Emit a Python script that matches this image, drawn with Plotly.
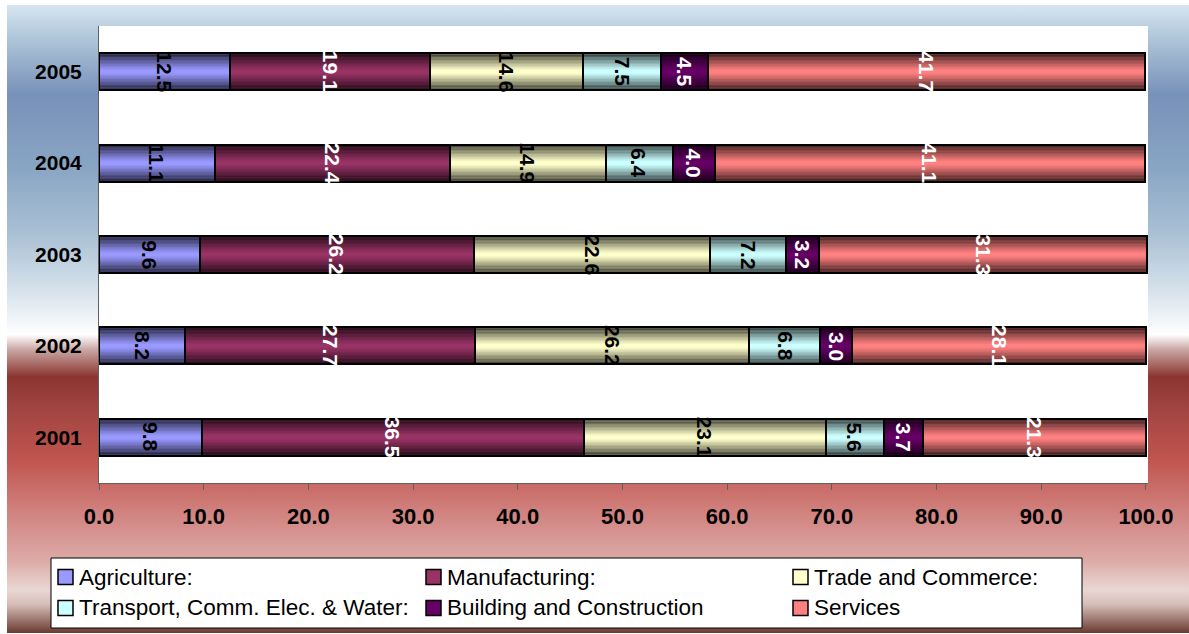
import base64
import plotly.graph_objects as go

# Sector shares of output (%), by year
years = ["2001", "2002", "2003", "2004", "2005"]
sectors = [
    "Agriculture:",
    "Manufacturing:",
    "Trade and Commerce:",
    "Transport, Comm. Elec. & Water:",
    "Building and Construction",
    "Services",
]
agriculture = [9.8, 8.2, 9.6, 11.1, 12.5]
manufacturing = [36.5, 27.7, 26.2, 22.4, 19.1]
trade = [23.1, 26.2, 22.6, 14.9, 14.6]
transport = [5.6, 6.8, 7.2, 6.4, 7.5]
building = [3.7, 3.0, 3.2, 4.0, 4.5]
services = [21.3, 28.1, 31.3, 41.1, 41.7]
x_ticks = [0, 10, 20, 30, 40, 50, 60, 70, 80, 90, 100]

series = [agriculture, manufacturing, trade, transport, building, services]
colors = ["#9999ff", "#993366", "#ffffcc", "#ccffff", "#660066", "#ff8080"]
label_colors = ["black", "white", "black", "black", "white", "white"]

FONT = "Liberation Sans, Arial, sans-serif"
W, H = 1189, 634
L, T, PW, PH = 99, 26, 1049, 457
R = W - L - PW
B = H - T - PH
BAR_W = 0.405


def px_x(px):
    return (px - L) / PW


def px_y(py):
    return (T + PH - py) / PH


ypos = list(range(len(years)))

fig = go.Figure()
for name, vals, col in zip(sectors, series, colors):
    fig.add_trace(go.Bar(
        y=ypos, x=vals, name=name, orientation="h",
        width=BAR_W,
        marker=dict(color=col, line=dict(color="black", width=2)),
        showlegend=False, hoverinfo="x+name",
    ))

# Edge shading of the bars: translucent dark bands stacked from each long
# edge toward the middle of every bar
totals = [sum(vals[i] for vals in series) for i in ypos]
n_strips = 12
edge = BAR_W * 0.45
h = edge / n_strips
shade_shapes = []
for i, tot in zip(ypos, totals):
    top = i + BAR_W / 2
    bot = i - BAR_W / 2
    for k in range(n_strips):
        a = 0.78 * (1 - k / n_strips) ** 1.15
        for y0, y1 in ((top - (k + 1) * h, top - k * h), (bot + k * h, bot + (k + 1) * h)):
            shade_shapes.append(dict(
                type="rect", xref="x", yref="y", x0=0, x1=tot, y0=y0, y1=y1,
                fillcolor=f"rgba(0,0,0,{a:.3f})", line=dict(width=0), layer="above",
            ))

annotations = []
shapes = []

# Value labels, rotated, centred on each segment
for i in ypos:
    start = 0.0
    for vals, tc in zip(series, label_colors):
        v = vals[i]
        annotations.append(dict(
            x=start + v / 2, y=i, xref="x", yref="y",
            text=f"{v:.1f}", showarrow=False, textangle=90,
            font=dict(family=FONT, size=21, color=tc, weight="bold"),
        ))
        start += v

# White plotting area over the gradient backdrop
shapes.append(dict(
    type="rect", xref="paper", yref="paper", x0=0, x1=1, y0=0, y1=1,
    fillcolor="white", line=dict(width=0), layer="below",
))
shapes += shade_shapes

# Legend box, swatches and labels
lg_x0, lg_x1, lg_y0, lg_y1 = 51, 1082, 558, 628
shapes.append(dict(
    type="rect", xref="paper", yref="paper",
    x0=px_x(lg_x0), x1=px_x(lg_x1), y0=px_y(lg_y1), y1=px_y(lg_y0),
    fillcolor="white", line=dict(color="black", width=1), layer="above",
))
col_x = [58, 426, 793]
row_y = [577, 608]
for j, (name, col) in enumerate(zip(sectors, colors)):
    cx = col_x[j % 3]
    cy = row_y[j // 3]
    shapes.append(dict(
        type="rect", xref="paper", yref="paper",
        x0=px_x(cx), x1=px_x(cx + 15), y0=px_y(cy + 7.5), y1=px_y(cy - 7.5),
        fillcolor=col, line=dict(color="black", width=1.5), layer="above",
    ))
    annotations.append(dict(
        x=px_x(cx + 19), y=px_y(cy), xref="paper", yref="paper",
        xanchor="left", yanchor="middle", text=name, showarrow=False,
        font=dict(family=FONT, size=22.5, color="black"),
    ))

# Gradient backdrop for the chart area
stops = [
    (0.000, "#d8e5f0"), (0.045, "#b4cadd"), (0.143, "#7891b8"),
    (0.258, "#89a5c4"), (0.363, "#a9c0d4"), (0.443, "#d0dde8"),
    (0.498, "#eff3f7"), (0.525, "#ffffff"), (0.549, "#c9a6a2"),
    (0.592, "#8b3531"), (0.645, "#a24541"), (0.725, "#c1554f"),
    (0.804, "#d0807d"), (0.884, "#dcaaa6"), (0.932, "#e9d7d3"),
    (0.955, "#d5bcb7"), (1.000, "#6a3a30"),
]
bg_x0, bg_y0, bg_w, bg_h = 7, 5, W - 7, 628
stop_xml = "".join(f"<stop offset='{o}' stop-color='{c}'/>" for o, c in stops)
svg = (
    f"<svg xmlns='http://www.w3.org/2000/svg' width='{bg_w}' height='{bg_h}' "
    f"viewBox='0 0 {bg_w} {bg_h}' preserveAspectRatio='none'>"
    f"<defs><linearGradient id='g' x1='0' y1='0' x2='0' y2='1'>{stop_xml}"
    f"</linearGradient></defs><rect width='{bg_w}' height='{bg_h}' fill='url(#g)'/></svg>"
)
src = "data:image/svg+xml;base64," + base64.b64encode(svg.encode()).decode()

fig.update_layout(
    barmode="stack",
    width=W, height=H,
    margin=dict(l=L, r=R, t=T, b=B, pad=0),
    paper_bgcolor="white",
    plot_bgcolor="white",
    showlegend=False,
    font=dict(family=FONT, color="black"),
    annotations=annotations,
    shapes=shapes,
    images=[dict(
        source=src, xref="paper", yref="paper",
        x=px_x(bg_x0), y=px_y(bg_y0), sizex=bg_w / PW, sizey=bg_h / PH,
        xanchor="left", yanchor="top", sizing="stretch", layer="below",
    )],
    xaxis=dict(
        range=[0, 100.2], tickvals=x_ticks, tickformat=".1f",
        ticks="outside", ticklen=6, tickcolor="#606060", tickwidth=1,
        showline=True, linecolor="#606060", linewidth=1,
        showgrid=False, zeroline=False, ticklabelstandoff=8,
        tickfont=dict(family=FONT, size=22, color="black", weight="bold"),
    ),
    yaxis=dict(
        range=[-0.5, 4.5], tickvals=ypos, ticktext=years,
        ticks="", showline=True, linecolor="#606060", linewidth=1,
        showgrid=False, zeroline=False, ticklabelstandoff=12,
        tickfont=dict(family=FONT, size=21, color="black", weight="bold"),
    ),
)

fig.write_html("out.html")
